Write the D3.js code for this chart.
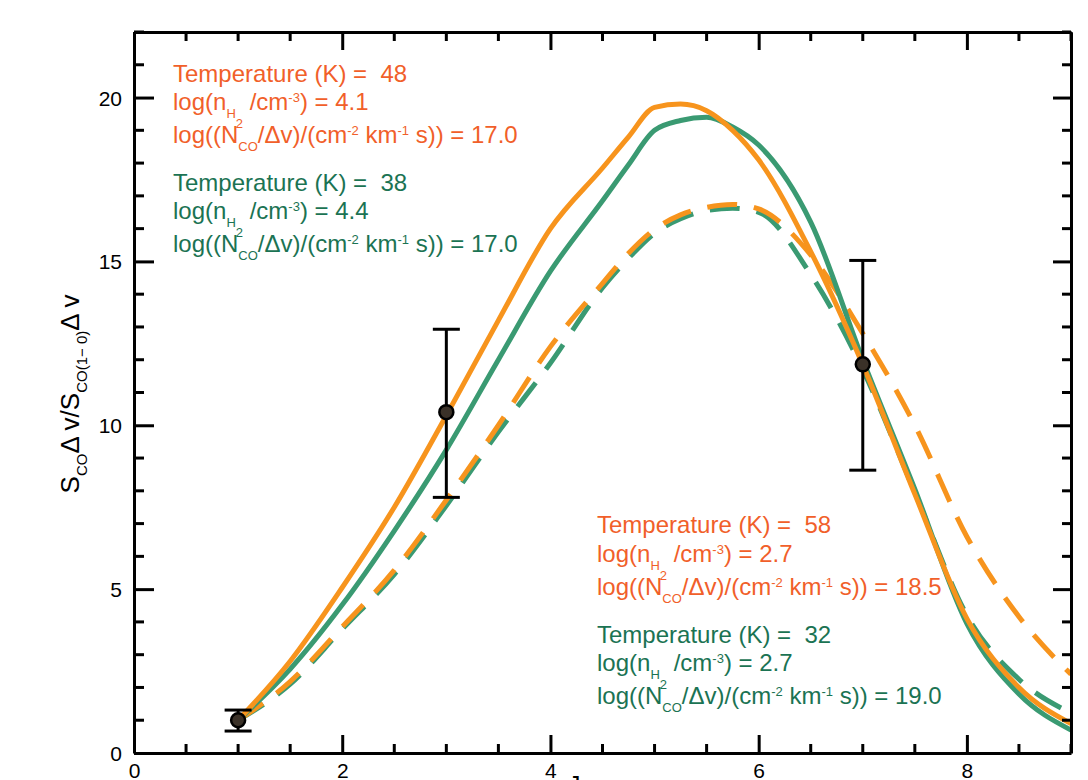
<!DOCTYPE html>
<html lang="en">
<head>
    <meta charset="UTF-8">
    <title>CO SLED model fits</title>
    <script src="https://d3js.org/d3.v7.min.js"></script>
</head>
<style>
    * {
        margin: 0;
        padding: 0;
    }
    body {
        background: #fff;
    }
    text {
        font-family: "Liberation Sans", Arial, Helvetica, sans-serif;
        white-space: pre;
    }
</style>
<body>
<script>
    // upper J level (denser near the peaks)
    var jUpper = [1, 1.5, 2, 2.5, 3, 3.5, 4, 4.5, 4.75, 5, 5.25, 5.5, 5.75, 6, 6.5, 7, 7.5, 8, 8.5, 9];
    var orangeSolid = [1.0, 2.8, 5.05, 7.5, 10.3, 13.2, 16.0, 17.85, 18.8, 19.7, 19.8, 19.6, 19.0, 18.1, 15.3, 11.85, 7.9, 4.1, 2.0, 0.9];
    var greenSolid  = [1.0, 2.56, 4.52, 6.78, 9.25, 12.0, 14.7, 16.85, 17.95, 19.0, 19.3, 19.4, 19.1, 18.55, 16.2, 12.0, 8.05, 3.95, 1.8, 0.7];
    var orangeDash  = [1.0, 2.18, 3.85, 5.58, 7.72, 10.0, 12.4, 14.33, 15.25, 15.98, 16.42, 16.65, 16.74, 16.6, 15.2, 12.8, 10.0, 6.6, 4.16, 2.4];
    var greenDash   = [1.0, 2.1, 3.78, 5.45, 7.55, 9.8, 11.9, 14.2, 15.1, 15.86, 16.3, 16.55, 16.62, 16.5, 14.6, 11.7, 7.95, 4.2, 2.25, 1.22];

    // observed ratios with errors
    var obsJ = [1, 3, 7];
    var obsRatio = [1.0, 10.4, 11.86];
    var obsLow = [0.67, 7.8, 8.63];
    var obsHigh = [1.31, 12.93, 15.03];

    // annotation values (orange solid, green solid, orange dash, green dash)
    var annoTemp = ["48", "38", "58", "32"];
    var annoDens = ["4.1", "4.4", "2.7", "2.7"];
    var annoCol = ["17.0", "17.0", "18.5", "19.0"];

    var xMajor = [0, 2, 4, 6, 8];
    var yMajor = [0, 5, 10, 15, 20];

    var W = 1088, H = 780;
    var pLeft = 134, pRight = 1071, pTop = 32, pBottom = 753;

    var orange = "#f7941d", green = "#3a9a72";
    var orangeText = "#f15f2a", greenText = "#1b7353";

    var svg = d3.select("body").append("svg")
        .attr("width", W).attr("height", H);

    var x = d3.scaleLinear().domain([0, 9]).range([pLeft, pRight]);
    var y = d3.scaleLinear().domain([0, 22]).range([pBottom, pTop]);

    svg.append("clipPath").attr("id", "plot")
        .append("rect").attr("x", pLeft).attr("y", pTop)
        .attr("width", pRight - pLeft).attr("height", pBottom - pTop);

    // curves
    var line = d3.line()
        .x(function(d) { return x(d[0]) })
        .y(function(d) { return y(d[1]) })
        .curve(d3.curveMonotoneX);

    var series = [
        {vals: greenDash, color: green, dash: "30,17"},
        {vals: orangeDash, color: orange, dash: "30,17"},
        {vals: greenSolid, color: green, dash: null},
        {vals: orangeSolid, color: orange, dash: null}
    ];
    series.forEach(function(s) {
        svg.append("path")
            .attr("clip-path", "url(#plot)")
            .attr("d", line(jUpper.map(function(j, i) { return [j, s.vals[i]] })))
            .attr("fill", "none")
            .attr("stroke", s.color)
            .attr("stroke-width", 5)
            .attr("stroke-dasharray", s.dash);
    });

    // axes, all four sides with in-pointing ticks
    var minorX = d3.range(0, 9.01, 0.5).filter(function(v) { return v % 2 !== 0 });
    var minorY = d3.range(0, 22.01, 1).filter(function(v) { return v % 5 !== 0 });

    var xAxisB = d3.axisBottom(x).tickValues(xMajor).tickSizeInner(-18).tickSizeOuter(0);
    var xAxisT = d3.axisTop(x).tickValues(xMajor).tickSizeInner(-18).tickSizeOuter(0).tickFormat("");
    var yAxisL = d3.axisLeft(y).tickValues(yMajor).tickSizeInner(-20).tickSizeOuter(0);
    var yAxisR = d3.axisRight(y).tickValues(yMajor).tickSizeInner(-18).tickSizeOuter(0).tickFormat("");

    var gB = svg.append("g").attr("transform", "translate(0," + pBottom + ")").call(xAxisB);
    var gT = svg.append("g").attr("transform", "translate(0," + pTop + ")").call(xAxisT);
    var gL = svg.append("g").attr("transform", "translate(" + pLeft + ",0)").call(yAxisL);
    var gR = svg.append("g").attr("transform", "translate(" + pRight + ",0)").call(yAxisR);

    gB.append("g").selectAll("line").data(minorX).enter().append("line")
        .attr("x1", x).attr("x2", x).attr("y1", 0).attr("y2", -9);
    gT.append("g").selectAll("line").data(minorX).enter().append("line")
        .attr("x1", x).attr("x2", x).attr("y1", 0).attr("y2", 9);
    gL.append("g").selectAll("line").data(minorY).enter().append("line")
        .attr("y1", y).attr("y2", y).attr("x1", 0).attr("x2", 10);
    gR.append("g").selectAll("line").data(minorY).enter().append("line")
        .attr("y1", y).attr("y2", y).attr("x1", 0).attr("x2", -9);

    [gB, gT, gL, gR].forEach(function(g) {
        g.attr("font-size", 21).attr("font-family", "'Liberation Sans', Arial, sans-serif");
        g.select(".domain").attr("stroke", "#000").attr("stroke-width", 3);
        g.selectAll("line").attr("stroke", "#000").attr("stroke-width", 3);
        g.selectAll("text").attr("fill", "#000");
    });
    gL.selectAll(".tick text").attr("text-anchor", "end").attr("x", -12).attr("dy", "0.36em");
    gB.selectAll(".tick text").attr("y", 10).attr("dy", "0.71em");

    // text with sub/superscripts; parts are [string, level]
    var shift = {0: 0, sub: 8, subsub: 18, sup: -8};
    function richText(g, tx, ty, parts, size, small, color, anchor) {
        var t = g.append("text").attr("x", tx).attr("y", ty)
            .attr("fill", color).attr("font-size", size)
            .attr("text-anchor", anchor || "start");
        var cur = 0;
        parts.forEach(function(p) {
            var target = shift[p[1]];
            t.append("tspan")
                .attr("dy", target - cur)
                .attr("font-size", p[1] === 0 ? size : small)
                .text(p[0]);
            cur = target;
        });
        return t;
    }

    function annoBlock(ax, ay, i, color) {
        var g = svg.append("g");
        richText(g, ax, ay, [["Temperature (K) =  " + annoTemp[i], 0]], 24, 14, color);
        richText(g, ax, ay + 28.4, [["log(n", 0], ["H", "sub"], ["2", "subsub"], [" /cm", 0], ["-3", "sup"], [") = " + annoDens[i], 0]], 24, 13, color);
        richText(g, ax, ay + 61.7, [["log((N", 0], ["CO", "sub"], ["/\u0394v)/(cm", 0], ["-2", "sup"], [" km", 0], ["-1", "sup"], [" s)) = " + annoCol[i], 0]], 24, 13, color);
    }
    annoBlock(173, 81.7, 0, orangeText);
    annoBlock(173, 190.5, 1, greenText);
    annoBlock(597, 533.3, 2, orangeText);
    annoBlock(597, 642.5, 3, greenText);

    // y axis title
    var yt = svg.append("g").attr("transform", "translate(79,394) rotate(-90)");
    richText(yt, 0, 0, [["S", 0], ["CO", "sub"], ["\u0394 v/S", 0], ["CO(1\u2212 0)", "sub"], ["\u0394 v", 0]], 26, 15, "#000", "middle");

    // x axis title (mostly below the frame)
    richText(svg, 568, 794, [["J", 0], ["upper", "sub"]], 25, 15, "#000");

    // observed points with error bars
    var obs = obsJ.map(function(j, i) { return {j: j, v: obsRatio[i], lo: obsLow[i], hi: obsHigh[i]} });
    var pg = svg.append("g").selectAll("g").data(obs).enter().append("g");
    pg.append("line")
        .attr("x1", function(d) { return x(d.j) }).attr("x2", function(d) { return x(d.j) })
        .attr("y1", function(d) { return y(d.lo) }).attr("y2", function(d) { return y(d.hi) })
        .attr("stroke", "#000").attr("stroke-width", 3);
    ["lo", "hi"].forEach(function(k) {
        pg.append("line")
            .attr("x1", function(d) { return x(d.j) - 13.5 }).attr("x2", function(d) { return x(d.j) + 13.5 })
            .attr("y1", function(d) { return y(d[k]) }).attr("y2", function(d) { return y(d[k]) })
            .attr("stroke", "#000").attr("stroke-width", 3);
    });
    pg.append("circle")
        .attr("cx", function(d) { return x(d.j) })
        .attr("cy", function(d) { return y(d.v) })
        .attr("r", 7)
        .attr("fill", "#3a3128")
        .attr("stroke", "#000").attr("stroke-width", 2.5);
</script>
</body>
</html>
